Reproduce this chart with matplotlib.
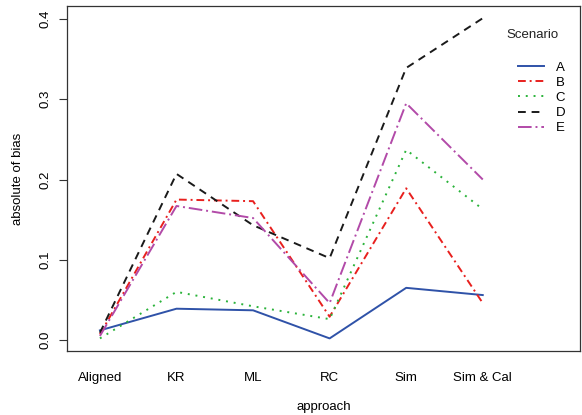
import matplotlib.pyplot as plt

plt.rcParams['font.family'] = ['Liberation Sans', 'DejaVu Sans']
plt.rcParams['font.size'] = 9.5

approaches = ["Aligned", "KR", "ML", "RC", "Sim", "Sim & Cal"]
scenarios = ["A", "B", "C", "D", "E"]

bias_a = [0.012, 0.039, 0.037, 0.002, 0.065, 0.056]
bias_b = [0.007, 0.175, 0.173, 0.029, 0.189, 0.046]
bias_c = [0.002, 0.060, 0.042, 0.026, 0.237, 0.163]
bias_d = [0.009, 0.207, 0.143, 0.102, 0.339, 0.401]
bias_e = [0.005, 0.167, 0.152, 0.046, 0.295, 0.200]

valores = [bias_a, bias_b, bias_c, bias_d, bias_e]
colores = ["#2f52a8", "#e8201e", "#2ab33a", "#1a1a1a", "#b24aa8"]
estilos = ["-", (0, (4, 2, 1, 2)), (0, (1, 3)), (0, (4, 3)), (0, (7, 2, 1, 2))]

fig = plt.figure(figsize=(5.82, 4.15), dpi=100)
ax = fig.add_axes([67 / 582, 1 - 351 / 415, (580 - 67) / 582, (351 - 6) / 415])

x = range(1, len(approaches) + 1)
for nombre, ys, c, ls in zip(scenarios, valores, colores, estilos):
    ax.plot(x, ys, color=c, linestyle=ls, linewidth=1.4, label=nombre)

ax.set_xlim(0.57, 7.27)
ax.set_ylim(-0.0137, 0.4162)
ax.set_xticks(list(x))
ax.set_xticklabels(approaches)
ax.set_yticks([0.0, 0.1, 0.2, 0.3, 0.4])
ax.set_yticklabels(["0.0", "0.1", "0.2", "0.3", "0.4"], rotation=90, va="center")
ax.tick_params(axis="x", length=0, pad=15)
ax.tick_params(axis="y", length=5.5, width=0.8, pad=6, color="#333333")
for s in ax.spines.values():
    s.set_color("#333333")
    s.set_linewidth(0.9)

ax.set_xlabel("approach", labelpad=12.5)
ax.set_ylabel("absolute of bias", labelpad=11)

# leyenda a mano: titulo separado de las entradas
fig.text(532 / 582, 1 - 35 / 415, "Scenario", ha="center", va="center", color="#222222")
ax.legend(loc="upper left", bbox_to_anchor=(511 / 582, 1 - 55 / 415),
          bbox_transform=fig.transFigure, frameon=False, borderpad=0,
          handlelength=2.0, handletextpad=0.9, labelspacing=0.22)

fig.savefig("out.png", dpi=100)
